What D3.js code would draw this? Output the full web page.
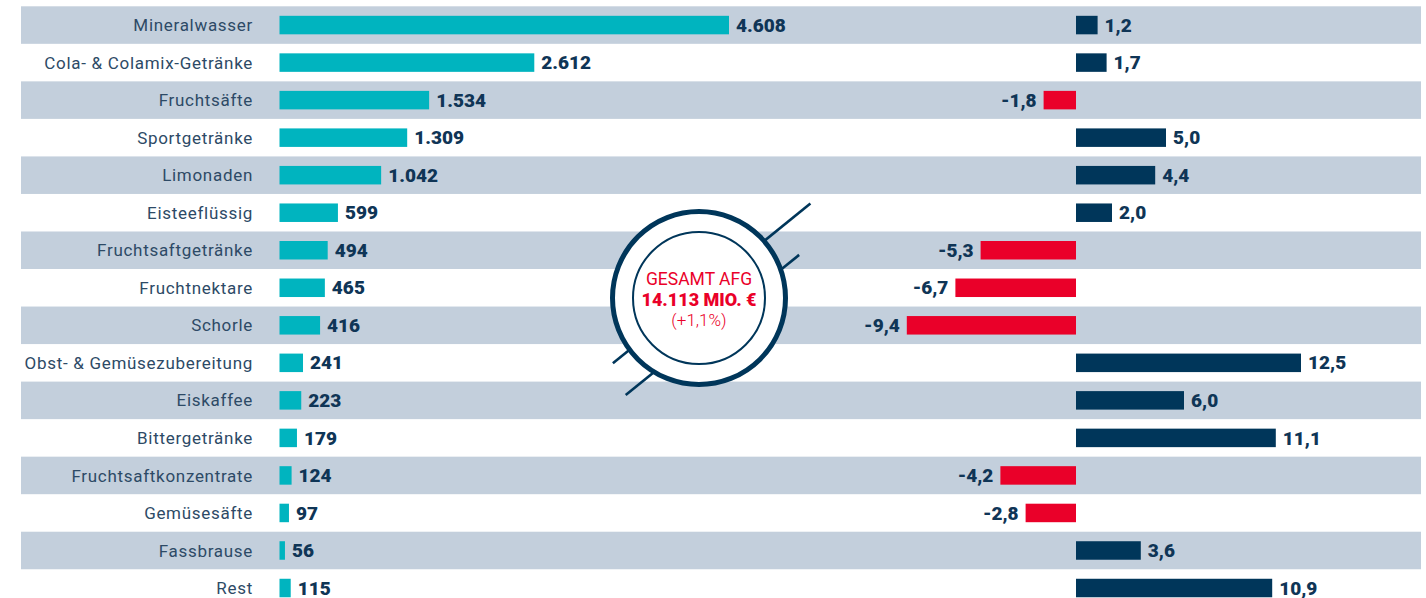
<!DOCTYPE html>
<html><head><meta charset="utf-8">
<script src="https://cdn.jsdelivr.net/npm/d3@7"></script>
<style>
html,body{margin:0;padding:0;background:#fff;}
svg{display:block;}
</style></head>
<body><svg id="c" width="1426" height="598"></svg>
<script>
const categories = ["Mineralwasser","Cola- & Colamix-Getränke","Fruchtsäfte","Sportgetränke","Limonaden","Eisteeflüssig","Fruchtsaftgetränke","Fruchtnektare","Schorle","Obst- & Gemüsezubereitung","Eiskaffee","Bittergetränke","Fruchtsaftkonzentrate","Gemüsesäfte","Fassbrause","Rest"];
const umsatz = [4608,2612,1534,1309,1042,599,494,465,416,241,223,179,124,97,56,115];
const veraenderung = [1.2,1.7,-1.8,5.0,4.4,2.0,-5.3,-6.7,-9.4,12.5,6.0,11.1,-4.2,-2.8,3.6,10.9];
const centerLines = ["GESAMT AFG","14.113 MIO. €","(+1,1%)"];

const C = {stripe:"#c3cfdc", teal:"#00b4bf", navy:"#00365a", red:"#ea0029", label:"#2d4a66", value:"#0f3556"};
const svg = d3.select("#c");
const step = 37.53;
const y = d3.scaleBand().domain(categories).range([6.3, 6.3 + step*categories.length]).paddingInner(0).paddingOuter(0);
const barH = 18.5;
const xL = d3.scaleLinear().domain([0, 4608]).range([279.5, 729]);
const xR = d3.scaleLinear().domain([-10, 10]).range([1076-180, 1076+180]);
const fmtInt = v => d3.format(",")(v).replace(/,/g,".");
const fmtDec = v => d3.format(".1f")(v).replace(".",",").replace("\u2212","-");

// stripes
svg.append("g").selectAll("rect").data(categories.filter((d,i)=>i%2===0)).join("rect")
  .attr("x",21).attr("width",1400).attr("y",d=>y(d)).attr("height",y.bandwidth()).attr("fill",C.stripe);

// category labels
svg.append("g").selectAll("text").data(categories).join("text")
  .attr("x",253).attr("y",d=>y(d)+y.bandwidth()/2).attr("dy","0.36em")
  .attr("text-anchor","end").attr("font-family","Roboto, sans-serif").attr("font-size",17)
  .attr("letter-spacing","0.7px")
  .attr("fill",C.label).text(d=>d);

// left bars
const L = svg.append("g");
L.selectAll("rect").data(umsatz).join("rect")
  .attr("x",xL(0)).attr("y",(d,i)=>y(categories[i])+(y.bandwidth()-barH)/2)
  .attr("width",d=>xL(d)-xL(0)).attr("height",barH).attr("fill",C.teal);
L.selectAll("text").data(umsatz).join("text")
  .attr("x",d=>xL(d)+7).attr("y",(d,i)=>y(categories[i])+y.bandwidth()/2).attr("dy","0.35em")
  .attr("font-family","Roboto, sans-serif").attr("font-weight",900).attr("font-size",19)
  .attr("fill",C.value).text(d=>fmtInt(d));

// right bars
const R = svg.append("g");
R.selectAll("rect").data(veraenderung).join("rect")
  .attr("x",d=>Math.min(xR(0),xR(d))).attr("y",(d,i)=>y(categories[i])+(y.bandwidth()-barH)/2)
  .attr("width",d=>Math.abs(xR(d)-xR(0))).attr("height",barH).attr("fill",d=>d<0?C.red:C.navy);
R.selectAll("text").data(veraenderung).join("text")
  .attr("x",d=>d<0? xR(d)-7 : xR(d)+7).attr("text-anchor",d=>d<0?"end":"start")
  .attr("y",(d,i)=>y(categories[i])+y.bandwidth()/2).attr("dy","0.35em")
  .attr("font-family","Roboto, sans-serif").attr("font-weight",900).attr("font-size",19)
  .attr("fill",C.value).text(d=>fmtDec(d));

// center badge
const cx = 699, cy = 298;
const ux = 0.7777, uy = -0.6285, nx = 0.6285, ny = 0.7777;
const B = svg.append("g");
[[ -3.4, -108, 146],[29.4,-118,105]].forEach(([off,t0,t1])=>{
  B.append("line")
   .attr("x1",cx+off*nx+t0*ux).attr("y1",cy+off*ny+t0*uy)
   .attr("x2",cx+off*nx+t1*ux).attr("y2",cy+off*ny+t1*uy)
   .attr("stroke",C.navy).attr("stroke-width",2.6);
});
B.append("circle").attr("cx",cx).attr("cy",cy).attr("r",86.5).attr("fill","#fff").attr("stroke",C.navy).attr("stroke-width",5);
B.append("circle").attr("cx",cx).attr("cy",cy).attr("r",66).attr("fill","none").attr("stroke",C.navy).attr("stroke-width",2);
B.append("text").attr("x",cx).attr("y",285).attr("text-anchor","middle").attr("font-family","Roboto, sans-serif")
  .attr("font-size",17.5).attr("fill",C.red).text(centerLines[0]);
B.append("text").attr("x",cx).attr("y",305.5).attr("text-anchor","middle").attr("font-family","Roboto, sans-serif")
  .attr("font-size",18).attr("font-weight",900).attr("fill",C.red).text(centerLines[1]);
B.append("text").attr("x",cx).attr("y",326).attr("text-anchor","middle").attr("font-family","Roboto, sans-serif")
  .attr("font-size",17).attr("font-weight",300).attr("fill",C.red).text(centerLines[2]);
</script></body></html>
